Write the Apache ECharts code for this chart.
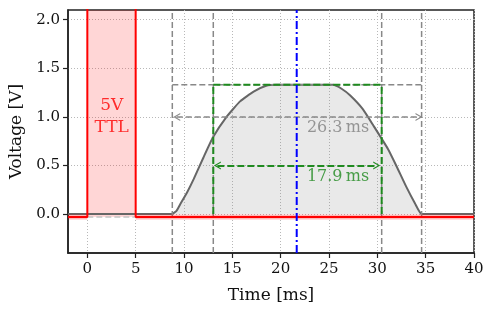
<!DOCTYPE html>
<html><head><meta charset="utf-8">
<script src="https://cdn.jsdelivr.net/npm/echarts@6/dist/echarts.min.js"></script>
<style>html,body{margin:0;padding:0;background:#fff}#c{width:494px;height:314px}</style>
</head><body><div id="c"></div>
<script>
// ---- data ----
const xTicks = [0, 5, 10, 15, 20, 25, 30, 35, 40];
const yTicks = [0.0, 0.5, 1.0, 1.5, 2.0];
const signalX = [-2, 8.7, 9.2, 9.6, 10.3, 11.0, 12.0, 13.0, 14.4, 15.8, 17.2, 18.5, 19.5, 25.4, 26.3, 27.2, 28.5, 29.6, 31.1, 32.0, 33.0, 33.9, 34.6, 40];
const signalY = [0, 0, 0.03, 0.10, 0.22, 0.36, 0.58, 0.79, 1.00, 1.16, 1.26, 1.32, 1.33, 1.33, 1.29, 1.22, 1.08, 0.91, 0.67, 0.49, 0.28, 0.11, 0.0, 0];
const ttlX = [-2, 0, 0, 5, 5, 40];
const ttlY = [-0.03, -0.03, 5, 5, -0.03, -0.03];
const ttlLow = -0.03;
const ttlOn = [0, 5];
const outerEdges = [8.79, 34.58];
const innerEdges = [13.03, 30.45];
const plateau = 1.331;
const cursorX = 21.66;
const outerArrow = [9.25, 34.31, 1.0];
const innerArrow = [13.45, 29.94, 0.5];
const labelTexts = ['5V\nTTL', '26.3\u2009ms', '17.9\u2009ms'];
const labelX = [2.52, 25.93, 25.93];
const labelY = [1.0, 0.889, 0.38];
const xMin = -2, xMax = 40, yMin = -0.4, yMax = 2.1;

const FONT = 'DejaVu Serif';
const GRAY = '#888888', GREEN = '#1f8a1f';
const chev = 'path://M0,10 L5,0 L10,10 L8.4,10 L5,3.2 L1.6,10 Z';
const pairs = (xs, ys) => xs.map((x, i) => [x, ys[i]]);
const dashG = {color: GRAY, width: 1.5, type: [6, 3]};
const dashGr = {color: GREEN, width: 2, type: [7, 3]};
const seg = (data, ls, z) => ({type: 'line', data, symbol: 'none', lineStyle: ls, z: z || 3, silent: true, animation: false});

const series = [
  {type: 'line', data: [], markArea: {silent: true, itemStyle: {color: 'rgba(255,0,0,0.16)'},
    data: [[{coord: [ttlOn[0], ttlLow]}, {coord: [ttlOn[1], yMax]}]]}, z: 1},
  {type: 'line', data: pairs(signalX, signalY), symbol: 'none', smooth: 0.15,
    lineStyle: {color: '#666', width: 2}, areaStyle: {color: 'rgba(128,128,128,0.25)', origin: 0}, z: 2},
  seg([[outerEdges[0], yMin], [outerEdges[0], yMax]], dashG),
  seg([[outerEdges[1], yMin], [outerEdges[1], yMax]], dashG),
  seg([[innerEdges[0], yMin], [innerEdges[0], yMax]], dashG),
  seg([[innerEdges[1], yMin], [innerEdges[1], yMax]], dashG),
  seg([[outerEdges[0], plateau], [outerEdges[1], plateau]], dashG),
  seg([[innerEdges[0], 0], [innerEdges[0], plateau]], dashGr, 4),
  seg([[innerEdges[1], 0], [innerEdges[1], plateau]], dashGr, 4),
  seg([[innerEdges[0], plateau], [innerEdges[1], plateau]], dashGr, 4),
  seg([[ttlOn[0], ttlLow], [ttlOn[1], ttlLow]], {color: '#c4c4c4', width: 1.5, type: [6, 3]}, 4),
  seg([[xMin, ttlLow], [ttlOn[0], ttlLow], [null, null], [ttlOn[1], ttlLow], [xMax, ttlLow]],
      {color: 'rgba(255,0,0,0.28)', width: 5}, 5),
  {type: 'line', data: pairs(ttlX, ttlY), symbol: 'none', lineStyle: {color: '#ff0000', width: 2}, z: 6, clip: true},
  {type: 'line', data: [], z: 7, markLine: {silent: true, symbol: [chev, chev], symbolSize: [8, 7],
    label: {show: false}, lineStyle: {color: GRAY, width: 1.5, type: [6, 3]},
    data: [[{coord: [outerArrow[0], outerArrow[2]]}, {coord: [outerArrow[1], outerArrow[2]]}]]}},
  {type: 'line', data: [], z: 7, markLine: {silent: true, symbol: [chev, chev], symbolSize: [8, 7],
    label: {show: false}, lineStyle: {color: GREEN, width: 2, type: [7, 3]},
    data: [[{coord: [innerArrow[0], innerArrow[2]]}, {coord: [innerArrow[1], innerArrow[2]]}]]}},
  seg([[cursorX, yMin], [cursorX, yMax]], {color: '#0000ff', width: 2, type: [8, 3, 2, 3]}, 8),
  {type: 'scatter', symbolSize: 0, z: 9, silent: true,
    data: labelTexts.map((t, i) => ({value: [labelX[i], labelY[i]], label: {
      show: true, position: 'inside', formatter: t, fontFamily: FONT,
      fontSize: i === 0 ? 17 : 16, lineHeight: i === 0 ? 22 : 18,
      color: i === 0 ? '#ff0000' : (i === 1 ? '#808080' : GREEN)}}))}
];

const chart = echarts.init(document.getElementById('c'), null, {renderer: 'canvas'});
chart.setOption({
  animation: false,
  grid: {left: 68, right: 20, top: 10, bottom: 61, show: true, borderColor: '#222', borderWidth: 1.5, backgroundColor: 'transparent'},
  xAxis: {type: 'value', min: xMin, max: xMax, interval: 5,
    name: 'Time [ms]', nameLocation: 'middle', nameGap: 34,
    nameTextStyle: {fontFamily: FONT, fontSize: 17, color: '#111'},
    axisLine: {show: true, onZero: false, lineStyle: {color: '#222', width: 1.5}},
    axisTick: {show: true, length: 5, inside: false, lineStyle: {color: '#222', width: 1.2}, customValues: xTicks},
    axisLabel: {fontFamily: FONT, fontSize: 15, color: '#111', margin: 9,
      customValues: xTicks, formatter: v => String(v)},
    splitLine: {show: true, lineStyle: {color: '#b8b8b8', type: [1, 2], width: 1}}},
  yAxis: {type: 'value', min: yMin, max: yMax,
    name: 'Voltage [V]', nameLocation: 'middle', nameGap: 43,
    nameTextStyle: {fontFamily: FONT, fontSize: 17, color: '#111'},
    axisLine: {show: true, onZero: false, lineStyle: {color: '#222', width: 1.5}},
    axisTick: {show: true, length: 5, lineStyle: {color: '#222', width: 1.2}, customValues: yTicks},
    axisLabel: {fontFamily: FONT, fontSize: 15, color: '#111', margin: 8,
      customValues: yTicks, formatter: v => v.toFixed(1)},
    splitLine: {show: true, lineStyle: {color: '#b8b8b8', type: [1, 2], width: 1}}},
  series
});
</script></body></html>
